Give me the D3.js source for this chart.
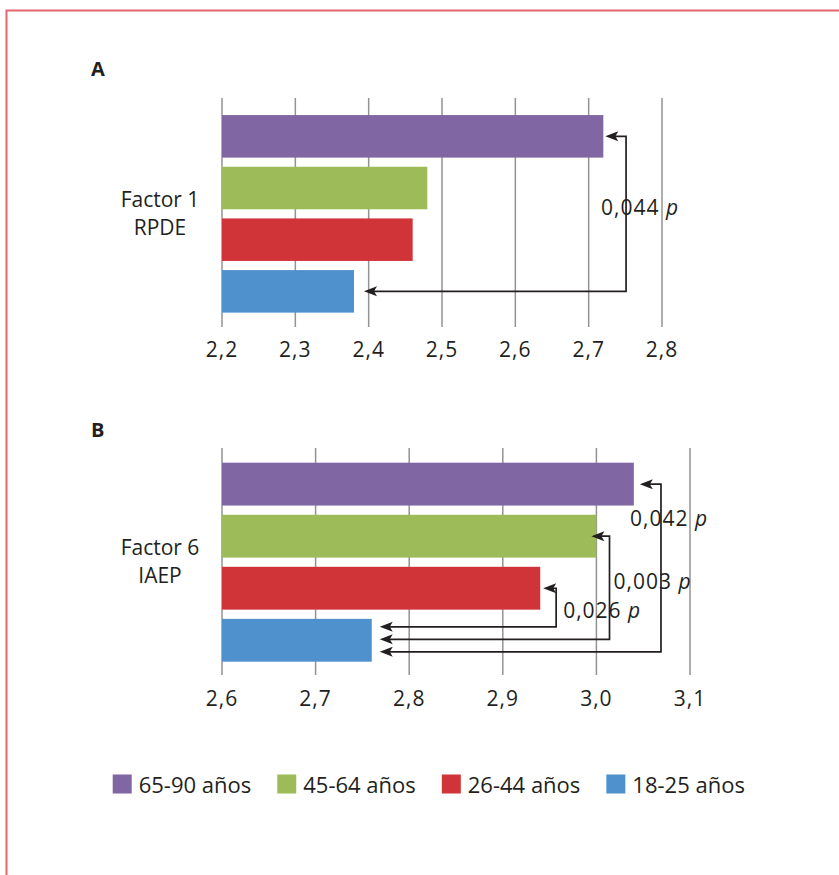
<!DOCTYPE html>
<html>
<head>
<meta charset="utf-8">
<script src="https://cdn.jsdelivr.net/npm/d3@7"></script>
<style>
  html, body { margin: 0; padding: 0; background: #fff; }
  svg { display: block; }
  text { font-family: "Open Sans", "Noto Sans", sans-serif; fill: #231f20; }
</style>
</head>
<body>
<svg id="chart" width="839" height="875"></svg>
<script>
// ---------- data ----------
const groups = ["65-90 años", "45-64 años", "26-44 años", "18-25 años"];
const groupColors = ["#8066a3", "#9dbb59", "#d13438", "#4f91cd"];

const panelTitles = ["A", "B"];
const factorLabels = [["Factor 1", "RPDE"], ["Factor 6", "IAEP"]];

const valuesA = [2.72, 2.48, 2.46, 2.38];
const valuesB = [3.04, 3.00, 2.94, 2.76];

const ticksA = [2.2, 2.3, 2.4, 2.5, 2.6, 2.7, 2.8];
const ticksB = [2.6, 2.7, 2.8, 2.9, 3.0, 3.1];

// p-value comparisons (from group index -> to group index)
const pLabelsA = ["0,044"];
const pFromA = [0];
const pToA = [3];
const pLabelsB = ["0,042", "0,003", "0,026"];
const pFromB = [0, 1, 2];
const pToB = [3, 3, 3];

// ---------- layout (not data) ----------
const W = 839, H = 875;
const svg = d3.select("#chart");
const fmt = d => d3.format(".1f")(d).replace(".", ",");

// frame
svg.append("path")
  .attr("d", `M6.5,${H} V10.5 H${W}`)
  .attr("fill", "none")
  .attr("stroke", "#e3676d")
  .attr("stroke-width", 2);

const panels = [
  {
    title: panelTitles[0], labels: factorLabels[0], values: valuesA, ticks: ticksA,
    domain: [2.2, 2.8], xRange: [222, 662], yRange: [110.5, 317.2],
    titleY: 76, gridTop: 98, gridBottom: 327, tickY: 357,
    pLabels: pLabelsA, pFrom: pFromA, pTo: pToA,
    bracketX: [2.751],
    topTipDx: [2], bottomTipDx: 10, bottomDy: [0],
    labelDx: [-25], labelRow: [1.93]
  },
  {
    title: panelTitles[1], labels: factorLabels[1], values: valuesB, ticks: ticksB,
    domain: [2.6, 3.1], xRange: [222, 690], yRange: [458.1, 666.3],
    titleY: 437, gridTop: 448, gridBottom: 675, tickY: 706,
    pLabels: pLabelsB, pFrom: pFromB, pTo: pToB,
    bracketX: [3.069, 3.014, 2.957],
    topTipDx: [6, -5, 3], bottomTipDx: 8, bottomDy: [11.5, -1, -13.5],
    labelDx: [-31, 4, 7], labelRow: [1.215, 2.43, 2.99]
  }
];

panels.forEach(p => {
  const g = svg.append("g");
  const x = d3.scaleLinear().domain(p.domain).range(p.xRange);
  const y = d3.scaleBand().domain(groups).range(p.yRange)
    .paddingInner(0.177).paddingOuter(0.0885);

  // title
  g.append("text").attr("x", 91).attr("y", p.titleY)
    .attr("font-weight", "bold").attr("font-size", 20).text(p.title);

  // gridlines (extend below as tick marks)
  g.selectAll("line.grid").data(p.ticks).join("line")
    .attr("class", "grid")
    .attr("x1", d => x(d)).attr("x2", d => x(d))
    .attr("y1", p.gridTop).attr("y2", p.gridBottom)
    .attr("stroke", "#939393").attr("stroke-width", 1.5);

  // tick labels
  g.selectAll("text.tick").data(p.ticks).join("text")
    .attr("class", "tick")
    .attr("x", d => x(d)).attr("y", p.tickY)
    .attr("text-anchor", "middle")
    .attr("font-size", 21)
    .attr("letter-spacing", 1)
    .text(fmt);

  // bars
  g.selectAll("rect.bar").data(p.values).join("rect")
    .attr("class", "bar")
    .attr("x", x(p.domain[0]))
    .attr("y", (d, i) => y(groups[i]))
    .attr("width", d => x(d) - x(p.domain[0]))
    .attr("height", y.bandwidth())
    .attr("fill", (d, i) => groupColors[i]);

  // category label
  const cy = (p.yRange[0] + p.yRange[1]) / 2;
  g.append("text").attr("x", 160).attr("y", cy - 7)
    .attr("text-anchor", "middle").attr("font-size", 21).text(p.labels[0]);
  g.append("text").attr("x", 160).attr("y", cy + 21)
    .attr("text-anchor", "middle").attr("font-size", 21).text(p.labels[1]);

  // comparison brackets
  p.pLabels.forEach((lab, k) => {
    const from = p.pFrom[k], to = p.pTo[k];
    const bx = x(p.bracketX[k]);
    const yTop = y(groups[from]) + y.bandwidth() / 2;
    const yBot = y(groups[to]) + y.bandwidth() / 2 + p.bottomDy[k];
    const tipTop = x(p.values[from]) + p.topTipDx[k];
    const tipBot = x(p.values[to]) + p.bottomTipDx;
    g.append("path")
      .attr("d", `M${tipTop + 9},${yTop} H${bx} V${yBot} H${tipBot + 9}`)
      .attr("fill", "none").attr("stroke", "#231f20").attr("stroke-width", 1.7);
    [[tipTop, yTop], [tipBot, yBot]].forEach(([tx, ty]) => {
      g.append("path")
        .attr("d", `M${tx},${ty} L${tx + 13},${ty - 5} L${tx + 10},${ty} L${tx + 13},${ty + 5} Z`)
        .attr("fill", "#231f20");
    });
    const t = g.append("text")
      .attr("x", bx + p.labelDx[k])
      .attr("y", y(groups[0]) + p.labelRow[k] * y.step())
      .attr("font-size", 21).attr("letter-spacing", 1);
    t.append("tspan").text(lab + " ");
    t.append("tspan").attr("font-style", "italic").attr("letter-spacing", 0).text("p");
  });
});

// legend
const legend = svg.append("g");
let lx = 112.7;
groups.forEach((name, i) => {
  legend.append("rect").attr("x", lx).attr("y", 774.5)
    .attr("width", 19).attr("height", 19).attr("fill", groupColors[i]);
  const t = legend.append("text").attr("x", lx + 26).attr("y", 793)
    .attr("font-size", 22).text(name);
  lx += 26 + t.node().getComputedTextLength() + 26;
});
</script>
</body>
</html>
